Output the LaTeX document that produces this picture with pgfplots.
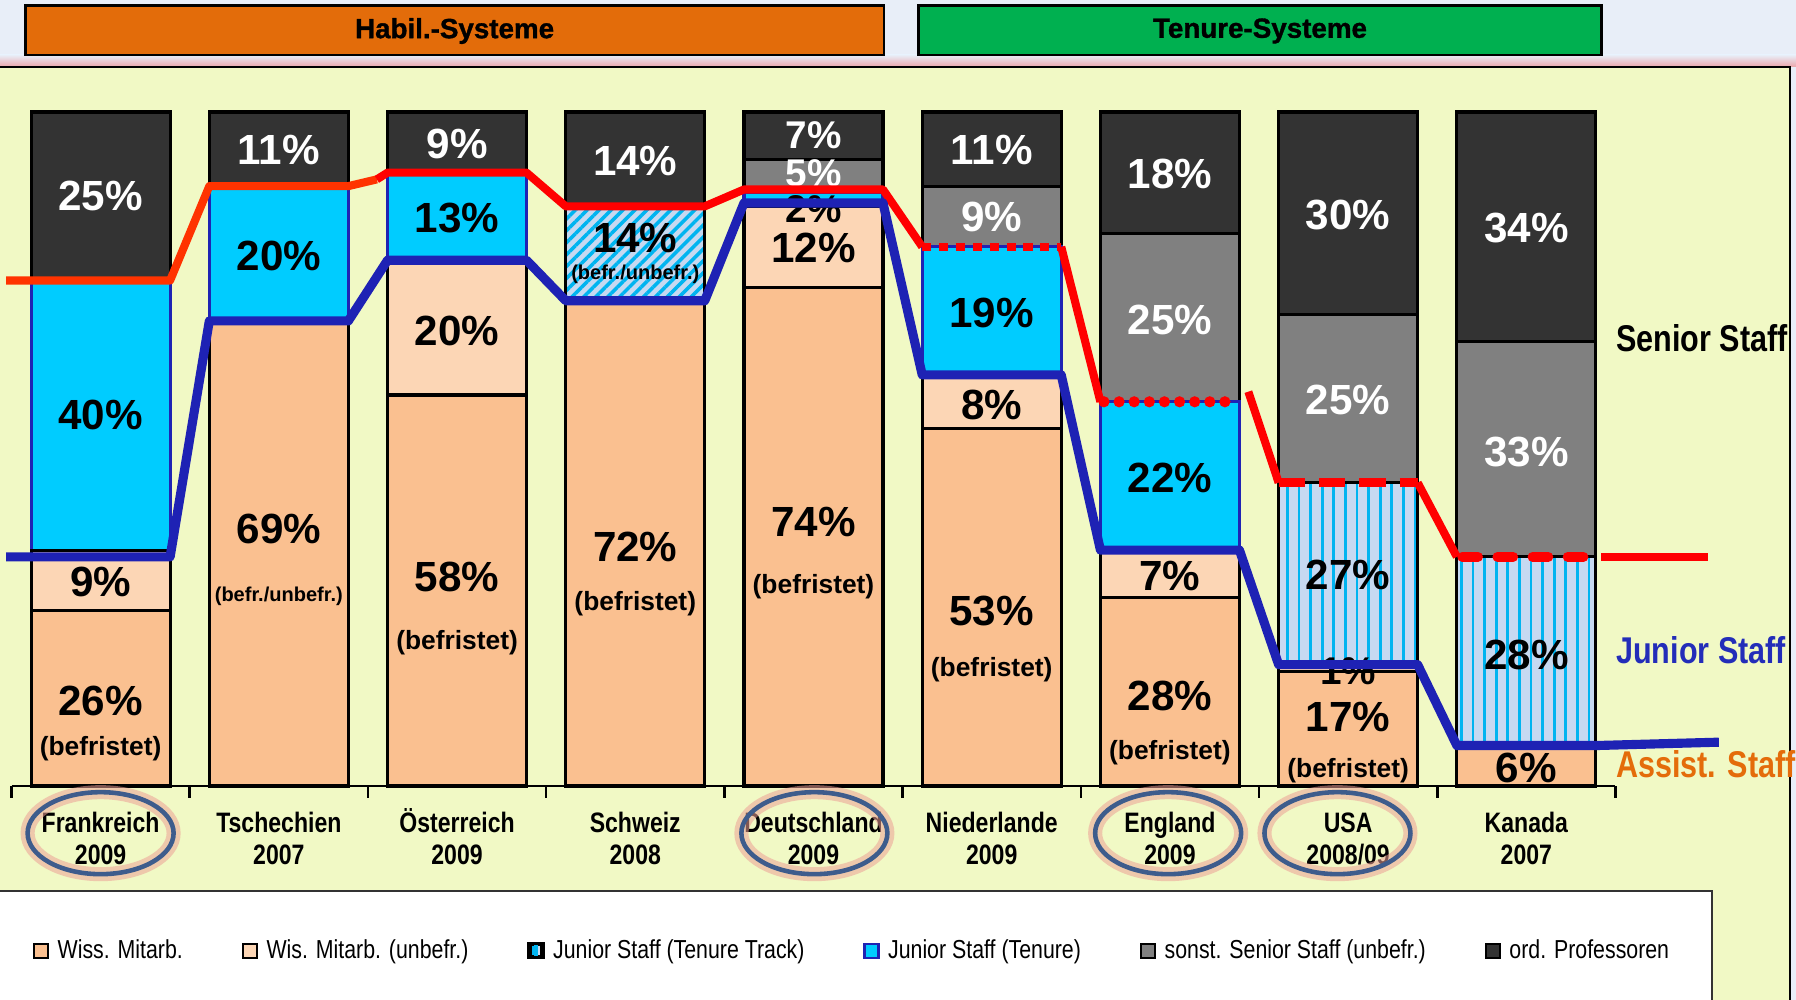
\documentclass[border=0pt]{standalone}
\usepackage{pgfplots}
\pgfplotsset{compat=1.18}
\usepackage{pgfplotstable}
\usepackage{fontspec}
\setmainfont{Liberation Sans}
\newfontfamily\narrowfont[FakeStretch=0.82]{Liberation Sans}
\newfontfamily\heavyfont[FakeBold=1.2]{Liberation Sans Bold}
\usetikzlibrary{patterns,patterns.meta}

\definecolor{wiss}{RGB}{250,192,144}
\definecolor{wisu}{RGB}{252,214,181}
\definecolor{tt}{RGB}{198,217,241}
\definecolor{ttline}{RGB}{0,180,240}
\definecolor{jten}{RGB}{0,204,255}
\definecolor{jborder}{RGB}{31,35,180}
\definecolor{sonst}{RGB}{128,128,128}
\definecolor{ordp}{RGB}{51,51,51}
\definecolor{panel}{RGB}{241,249,197}
\definecolor{topbg}{RGB}{232,238,248}
\definecolor{shadowc}{RGB}{235,165,170}
\definecolor{habil}{RGB}{227,108,10}
\definecolor{tenure}{RGB}{0,176,80}
\definecolor{redl}{RGB}{255,0,0}
\definecolor{redo}{RGB}{255,51,0}
\definecolor{bluel}{RGB}{30,34,180}
\definecolor{ellc}{RGB}{62,92,140}
\definecolor{glow}{RGB}{236,160,150}
\definecolor{assist}{RGB}{228,108,10}
\definecolor{juniorc}{RGB}{35,45,185}

\pgfplotstableread{
x wiss wisu ttd ttv jten sonst ordp
0 26 9 0 0 40 0 25
1 69 0 0 0 20 0 11
2 58 20 0 0 13 0 9
3 72 0 14 0 0 0 14
4 74 12 0 0 2 5 7
5 53 8 0 0 19 9 11
6 28 7 0 0 22 25 18
7 17 1 0 27 0 25 30
8 6 0 0 28 0 32 34
}\bars

\tikzset{
  big/.style={font=\bfseries\fontsize{12}{13}\selectfont, inner sep=0pt},
  wbig/.style={big, text=white},
  mid/.style={font=\bfseries\fontsize{11}{12}\selectfont, inner sep=0pt},
  sm/.style={font=\bfseries\fontsize{7.5}{9}\selectfont, inner sep=0pt},
  tny/.style={font=\bfseries\fontsize{5.7}{7}\selectfont, inner sep=0pt},
  glowe/.style={glow, line width=4pt, opacity=0.55},
  elle/.style={ellc, line width=1.3pt},
}

\begin{document}
\begin{tikzpicture}[x=1cm,y=1cm]
\useasboundingbox (0,0) rectangle (17.96,10);
\clip (0,0) rectangle (17.96,10);
\fill[topbg] (0,0) rectangle (17.96,10);
\shade[top color=topbg, bottom color=shadowc] (0,9.33) rectangle (17.96,9.45);
\fill[panel] (0,0) rectangle (17.90,9.33);
\draw[line width=0.8pt] (0,9.33) -- (17.90,9.33) -- (17.90,0);
\fill[white] (0,0) rectangle (17.12,1.09);
\draw[line width=0.7pt, black!80] (0,1.09) -- (17.12,1.09) -- (17.12,0);
\draw[fill=habil, line width=0.8pt] (0.252,9.45) rectangle (8.84,9.943);
\node[font=\heavyfont\fontsize{7.9}{9}\selectfont] at (4.546,9.69) {Habil.-Systeme};
\draw[fill=tenure, line width=0.8pt] (9.186,9.45) rectangle (16.013,9.943);
\node[font=\heavyfont\fontsize{7.9}{9}\selectfont] at (12.60,9.69) {Tenure-Systeme};

\begin{axis}[
  at={(0.115cm,2.14cm)}, anchor=south west,
  scale only axis, width=16.04cm, height=6.74cm,
  xmin=-0.5, xmax=8.5, ymin=0, ymax=100, enlargelimits=false,
  ybar stacked, bar width=0.78,
  axis y line=none, axis x line*=bottom,
  axis line style={line width=0.7pt, -},
  xtick={0,...,8},
  xticklabels={{Frankreich\\2009},{Tschechien\\2007},{\smash{Ö}sterreich\\2009},{Schweiz\\2008},{Deutschland\\2009},{Niederlande\\2009},{England\\2009},{USA\\2008/09},{Kanada\\2007}},
  major tick length=0pt,
  minor xtick={-0.5,0.5,...,8.5},
  minor tick length=0.12cm,
  tick align=outside,
  tick style={line width=0.7pt, black},
  xticklabel style={align=center, font=\narrowfont\bfseries\fontsize{8}{9.1}\selectfont, yshift=-0.14cm},
  clip=false,
  legend columns=6,
  legend style={draw=none, fill=none, inner sep=0pt, at={(0.013,-0.246)}, anchor=west,
    font=\narrowfont\fontsize{7.4}{9}\selectfont,
    /tikz/every even column/.append style={column sep=0.52cm},
    /tikz/every odd column/.append style={column sep=0.015cm}},
  legend cell align=left,
  legend image code/.code={\draw[#1, line width=0.6pt] (0cm,-0.06cm) rectangle (0.14cm,0.08cm);},
]
\addplot[fill=wiss, draw=black, line width=0.9pt] table[x=x,y=wiss]{\bars};
\addlegendentry{Wiss. Mitarb.}
\addplot[fill=wisu, draw=black, line width=0.9pt] table[x=x,y=wisu]{\bars};
\addlegendentry{Wis. Mitarb. (unbefr.)}
\addplot[fill=tt, draw=black, line width=0.9pt, forget plot,
  postaction={pattern={Lines[angle=45,distance=2.4pt,line width=1pt]}, pattern color=ttline}] table[x=x,y=ttd]{\bars};
\addplot[fill=tt, draw=black, line width=0.9pt,
  postaction={pattern={Lines[angle=90,distance=3.3pt,line width=0.8pt]}, pattern color=ttline},
  legend image code/.code={\draw[line width=1.2pt, black, fill=tt] (0cm,-0.05cm) rectangle (0.13cm,0.08cm); \draw[ttline, line width=1pt] (0.065cm,-0.04cm) -- (0.065cm,0.07cm);}] table[x=x,y=ttv]{\bars};
\addlegendentry{Junior Staff (Tenure Track)}
\addplot[fill=jten, draw=jborder, line width=0.9pt] table[x=x,y=jten]{\bars};
\addlegendentry{Junior Staff (Tenure)}
\addplot[fill=sonst, draw=black, line width=0.9pt] table[x=x,y=sonst]{\bars};
\addlegendentry{sonst. Senior Staff (unbefr.)}
\addplot[fill=ordp, draw=black, line width=0.9pt] table[x=x,y=ordp]{\bars};
\addlegendentry{ord. Professoren}
\end{axis}

\begin{axis}[
  at={(0.115cm,2.14cm)}, anchor=south west,
  scale only axis, width=16.04cm, height=6.74cm,
  xmin=-0.5, xmax=8.5, ymin=0, ymax=100, enlargelimits=false,
  hide axis, clip=false,
]
% segment labels
\node[wbig] at (axis cs:0,87.5) {25\%};
\node[big] at (axis cs:0,55) {40\%};
\node[big] at (axis cs:0,30.3) {9\%};
\node[big] at (axis cs:0,12.6) {26\%};
\node[sm] at (axis cs:0,5.6) {(befristet)};
\node[wbig] at (axis cs:1,94.4) {11\%};
\node[big] at (axis cs:1,78.7) {20\%};
\node[big] at (axis cs:1,38.1) {69\%};
\node[tny] at (axis cs:1,28.2) {(befr./unbefr.)};
\node[wbig] at (axis cs:2,95.2) {9\%};
\node[big] at (axis cs:2,84.2) {13\%};
\node[big] at (axis cs:2,67.5) {20\%};
\node[big] at (axis cs:2,31) {58\%};
\node[sm] at (axis cs:2,21.3) {(befristet)};
\node[wbig] at (axis cs:3,92.7) {14\%};
\node[big] at (axis cs:3,81.3) {14\%};
\node[tny] at (axis cs:3,75.9) {(befr./unbefr.)};
\node[big] at (axis cs:3,35.5) {72\%};
\node[sm] at (axis cs:3,27) {(befristet)};
\node[mid, text=white] at (axis cs:4,96.6) {7\%};
\node[mid, text=white] at (axis cs:4,90.9) {5\%};
\node[mid] at (axis cs:4,85.6) {2\%};
\node[big] at (axis cs:4,79.8) {12\%};
\node[big] at (axis cs:4,39.1) {74\%};
\node[sm] at (axis cs:4,29.6) {(befristet)};
\node[wbig] at (axis cs:5,94.4) {11\%};
\node[wbig] at (axis cs:5,84.4) {9\%};
\node[big] at (axis cs:5,70.2) {19\%};
\node[big] at (axis cs:5,56.6) {8\%};
\node[big] at (axis cs:5,26) {53\%};
\node[sm] at (axis cs:5,17.2) {(befristet)};
\node[wbig] at (axis cs:6,90.8) {18\%};
\node[wbig] at (axis cs:6,69.2) {25\%};
\node[big] at (axis cs:6,45.7) {22\%};
\node[big] at (axis cs:6,31.1) {7\%};
\node[big] at (axis cs:6,13.4) {28\%};
\node[sm] at (axis cs:6,4.9) {(befristet)};
\node[wbig] at (axis cs:7,84.7) {30\%};
\node[wbig] at (axis cs:7,57.3) {25\%};
\node[big] at (axis cs:7,31.3) {27\%};
\node[mid] at (axis cs:7,17.0) {1\%};
\node[big] at (axis cs:7,10.2) {17\%};
\node[sm] at (axis cs:7,2.2) {(befristet)};
\node[wbig] at (axis cs:8,82.8) {34\%};
\node[wbig] at (axis cs:8,49.5) {33\%};
\node[big] at (axis cs:8,19.4) {28\%};
\node[big] at (axis cs:8,2.6) {6\%};

% red line (senior staff boundary)
\addplot[redo, line width=2.3pt, line join=round] coordinates {(-0.53,75) (0.39,75) (0.61,89) (1.39,89) (1.55,90)};
\addplot[redl, line width=2.3pt, line join=round] coordinates {(1.55,90) (1.61,91) (2.39,91) (2.61,86) (3.39,86) (3.61,88.5) (4.39,88.5) (4.61,80)};
\addplot[redl, line width=2.3pt, dash pattern=on 2.6pt off 2.2pt] coordinates {(4.61,80) (5.39,80)};
\addplot[redl, line width=2.3pt] coordinates {(5.39,80) (5.61,57)};
\addplot[redl, line width=3.2pt, line cap=round, dash pattern=on 0pt off 4.3pt] coordinates {(5.63,57) (6.39,57)};
\addplot[redl, line width=2.3pt] coordinates {(6.44,58.5) (6.61,45)};
\addplot[redl, line width=2.6pt, dash pattern=on 7.5pt off 4pt] coordinates {(6.61,45) (7.39,45)};
\addplot[redl, line width=2.3pt] coordinates {(7.39,45) (7.61,34)};
\addplot[redl, line width=2.8pt, line cap=round, dash pattern=on 4.5pt off 5.5pt] coordinates {(7.64,34) (8.39,34)};
\addplot[redl, line width=2.3pt] coordinates {(8.42,34) (9.02,34)};
% blue line (junior / assistant boundary)
\addplot[bluel, line width=2.6pt, line join=round] coordinates {(-0.53,34) (0.39,34) (0.61,69) (1.39,69) (1.61,78) (2.39,78) (2.61,72) (3.39,72) (3.61,86.5) (4.39,86.5) (4.61,61) (5.39,61) (5.61,35) (6.39,35) (6.61,18) (7.39,18) (7.61,6) (8.39,6) (9.08,6.5)};

% right side labels
\node[anchor=west, inner sep=0pt, font=\narrowfont\bfseries\fontsize{10.6}{12}\selectfont] at (axis cs:8.5,66.5) {Senior Staff};
\node[anchor=west, inner sep=0pt, text=juniorc, font=\narrowfont\bfseries\fontsize{10.6}{12}\selectfont] at (axis cs:8.5,20.1) {Junior Staff};
\node[anchor=west, inner sep=0pt, text=assist, font=\narrowfont\bfseries\fontsize{10.6}{12}\selectfont] at (axis cs:8.5,3.2) {Assist. Staff};

% ellipses
\draw[glowe] (axis cs:0,-7.0) ellipse [x radius=0.73cm, y radius=0.41cm];
\draw[elle] (axis cs:0,-7.0) ellipse [x radius=0.73cm, y radius=0.41cm];
\draw[glowe] (axis cs:4.005,-7.0) ellipse [x radius=0.73cm, y radius=0.41cm];
\draw[elle] (axis cs:4.005,-7.0) ellipse [x radius=0.73cm, y radius=0.41cm];
\draw[glowe] (axis cs:5.99,-7.0) ellipse [x radius=0.73cm, y radius=0.41cm];
\draw[elle] (axis cs:5.99,-7.0) ellipse [x radius=0.73cm, y radius=0.41cm];
\draw[glowe] (axis cs:6.94,-7.0) ellipse [x radius=0.73cm, y radius=0.41cm];
\draw[elle] (axis cs:6.94,-7.0) ellipse [x radius=0.73cm, y radius=0.41cm];
\end{axis}
\end{tikzpicture}
\end{document}
